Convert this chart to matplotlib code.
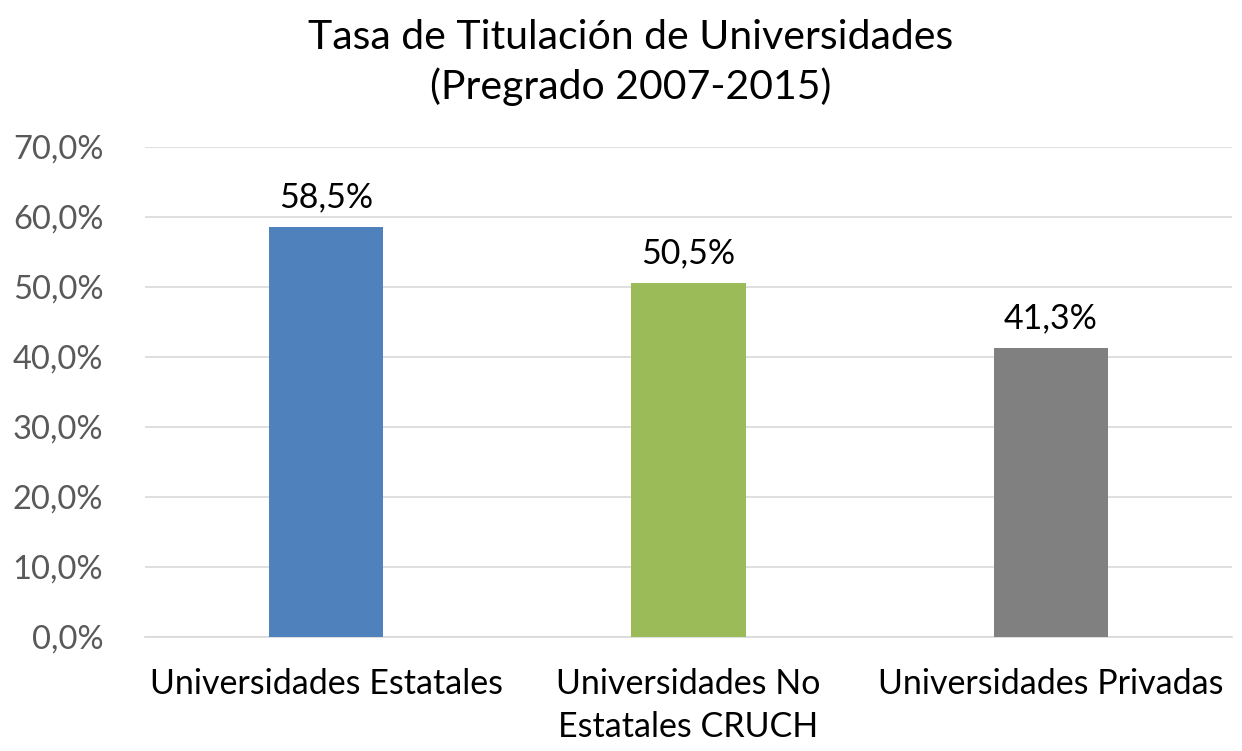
import matplotlib.pyplot as plt

# ---- Data ----
categories = ['Universidades Estatales', 'Universidades No\nEstatales CRUCH', 'Universidades Privadas']
rates = [58.5, 50.5, 41.3]
colors = ['#4F81BD', '#9BBB59', '#808080']
yticks = [0, 10, 20, 30, 40, 50, 60, 70]

plt.rcParams['font.family'] = ['Lato', 'DejaVu Sans']

fig = plt.figure(figsize=(12.42, 7.51), dpi=100)
ax = fig.add_axes([0.1167, 0.1518, 0.8753, 0.6525])

x = list(range(len(categories)))
ax.bar(x, rates, width=0.315, color=colors, zorder=3)

for xi, v in zip(x, rates):
    ax.text(xi, v + 2.0, f'{v:.1f}%'.replace('.', ','), ha='center', va='bottom',
            fontsize=24.5, color='#000000')

ax.set_xlim(-0.5, 2.5)
ax.set_ylim(0, 70)
ax.set_yticks(yticks)
ax.set_yticklabels([f'{t:.1f}%'.replace('.', ',') for t in yticks], fontsize=23.5, color='#595959')
ax.set_xticks(x)
ax.set_xticklabels(categories, fontsize=24.5, color='#000000', linespacing=1.45)
ax.tick_params(axis='x', length=0, pad=22)
ax.tick_params(axis='y', length=0, pad=30)
ax.grid(axis='y', color='#D9D9D9', linewidth=1.2, zorder=0)
for s in ['top', 'right', 'left']:
    ax.spines[s].set_visible(False)
ax.spines['bottom'].set_color('#D9D9D9')
ax.spines['bottom'].set_linewidth(1.2)

fig.text(0.508, 0.975, 'Tasa de Titulación de Universidades\n(Pregrado 2007-2015)', fontsize=29.5,
         ha='center', va='top', color='#000000', linespacing=1.35)

plt.savefig('out.png', dpi=100)
